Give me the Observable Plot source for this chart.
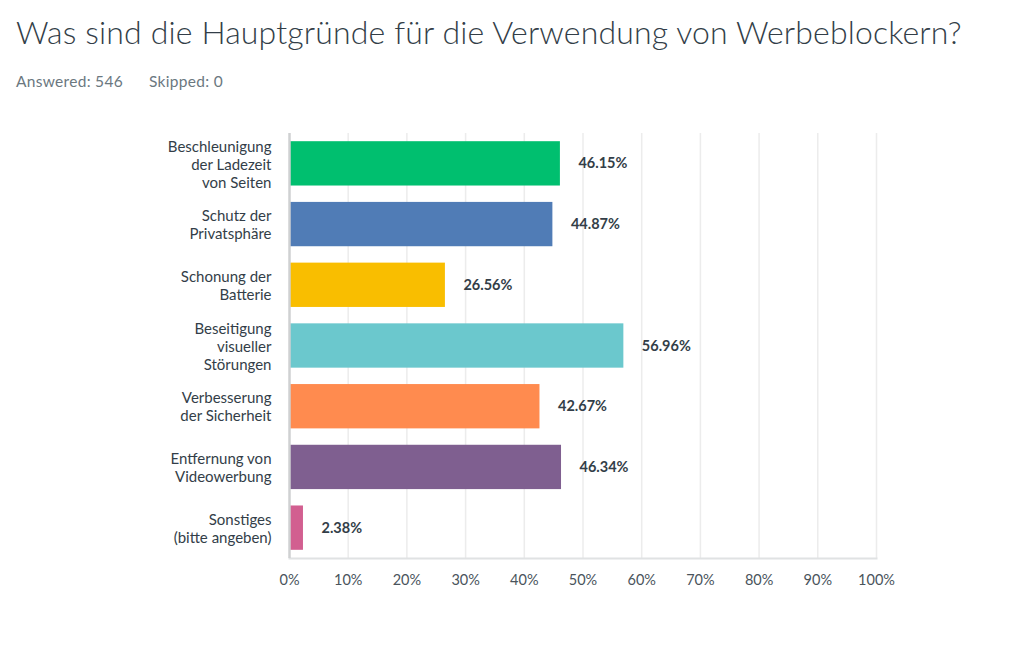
<!DOCTYPE html>
<html>
<head>
<meta charset="utf-8">
<script src="https://cdn.jsdelivr.net/npm/d3@7"></script>
<script src="https://cdn.jsdelivr.net/npm/@observablehq/plot@0.6"></script>
<style>
  body { margin: 0; background: #fff; font-family: Lato, "Open Sans", sans-serif; width: 1022px; height: 646px; overflow: hidden; position: relative; }
  #title { position: absolute; left: 16px; top: 12px; font-size: 32px; font-weight: 300; color: #333e48; white-space: nowrap; letter-spacing: 0.15px; }
  #sub { position: absolute; left: 16px; top: 72px; font-size: 15.5px; color: #6b787f; white-space: nowrap; letter-spacing: 0.3px; }
  #sub span { margin-right: 26px; }
  #chart { position: absolute; left: 0; top: 100px; }
</style>
</head>
<body>
<div id="title">Was sind die Hauptgründe für die Verwendung von Werbeblockern?</div>
<div id="sub"><span>Answered: 546</span><span>Skipped: 0</span></div>
<div id="chart"></div>
<script>
const categories = [
  "Beschleunigung\nder Ladezeit\nvon Seiten",
  "Schutz der\nPrivatsphäre",
  "Schonung der\nBatterie",
  "Beseitigung\nvisueller\nStörungen",
  "Verbesserung\nder Sicherheit",
  "Entfernung von\nVideowerbung",
  "Sonstiges\n(bitte angeben)"
];
const values = [46.15, 44.87, 26.56, 56.96, 42.67, 46.34, 2.38];
const colors = ["#00bf6f", "#507cb6", "#f9be00", "#6bc8cd", "#ff8b4f", "#7f5f90", "#d25f90"];
const xTicks = [0, 10, 20, 30, 40, 50, 60, 70, 80, 90, 100];

const data = categories.map((c, i) => ({category: c, value: values[i], color: colors[i]}));

const chart = Plot.plot({
  width: 1022,
  height: 500,
  marginLeft: 289,
  marginRight: 146,
  marginTop: 33,
  marginBottom: 42,
  style: {fontFamily: "Lato, 'Open Sans', sans-serif", fontSize: "14px", color: "#333e48", background: "#fff"},
  x: {domain: [0, 100], label: null},
  y: {domain: categories, paddingInner: 0.27, paddingOuter: 0.135, round: false, label: null},
  marks: [
    Plot.ruleX(xTicks.slice(1), {stroke: "#ececec", strokeWidth: 1.5, strokeOpacity: 1}),
    Plot.frame({anchor: "bottom", stroke: "#e0e2e3", strokeWidth: 2, strokeOpacity: 1}),
    Plot.barX(data, {x: "value", y: "category", fill: "color"}),
    Plot.ruleX([0], {stroke: "#cfd1d2", strokeWidth: 2.5}),
    Plot.axisX({ticks: xTicks, tickFormat: d => d + "%", tickSize: 0, tickPadding: 16, fontSize: 14.5, fill: "#4a545c", anchor: "bottom", label: null}),
    Plot.axisY({tickSize: 0, tickPadding: 18, fontSize: 15, lineHeight: 1.2, fill: "#333e48", label: null}),
    Plot.text(data, {x: "value", y: "category", text: d => d.value.toFixed(2) + "%", dx: 18, textAnchor: "start", fontWeight: "bold", fontSize: 14.5, fill: "#333e48"})
  ]
});
document.getElementById("chart").appendChild(chart);
</script>
</body>
</html>
